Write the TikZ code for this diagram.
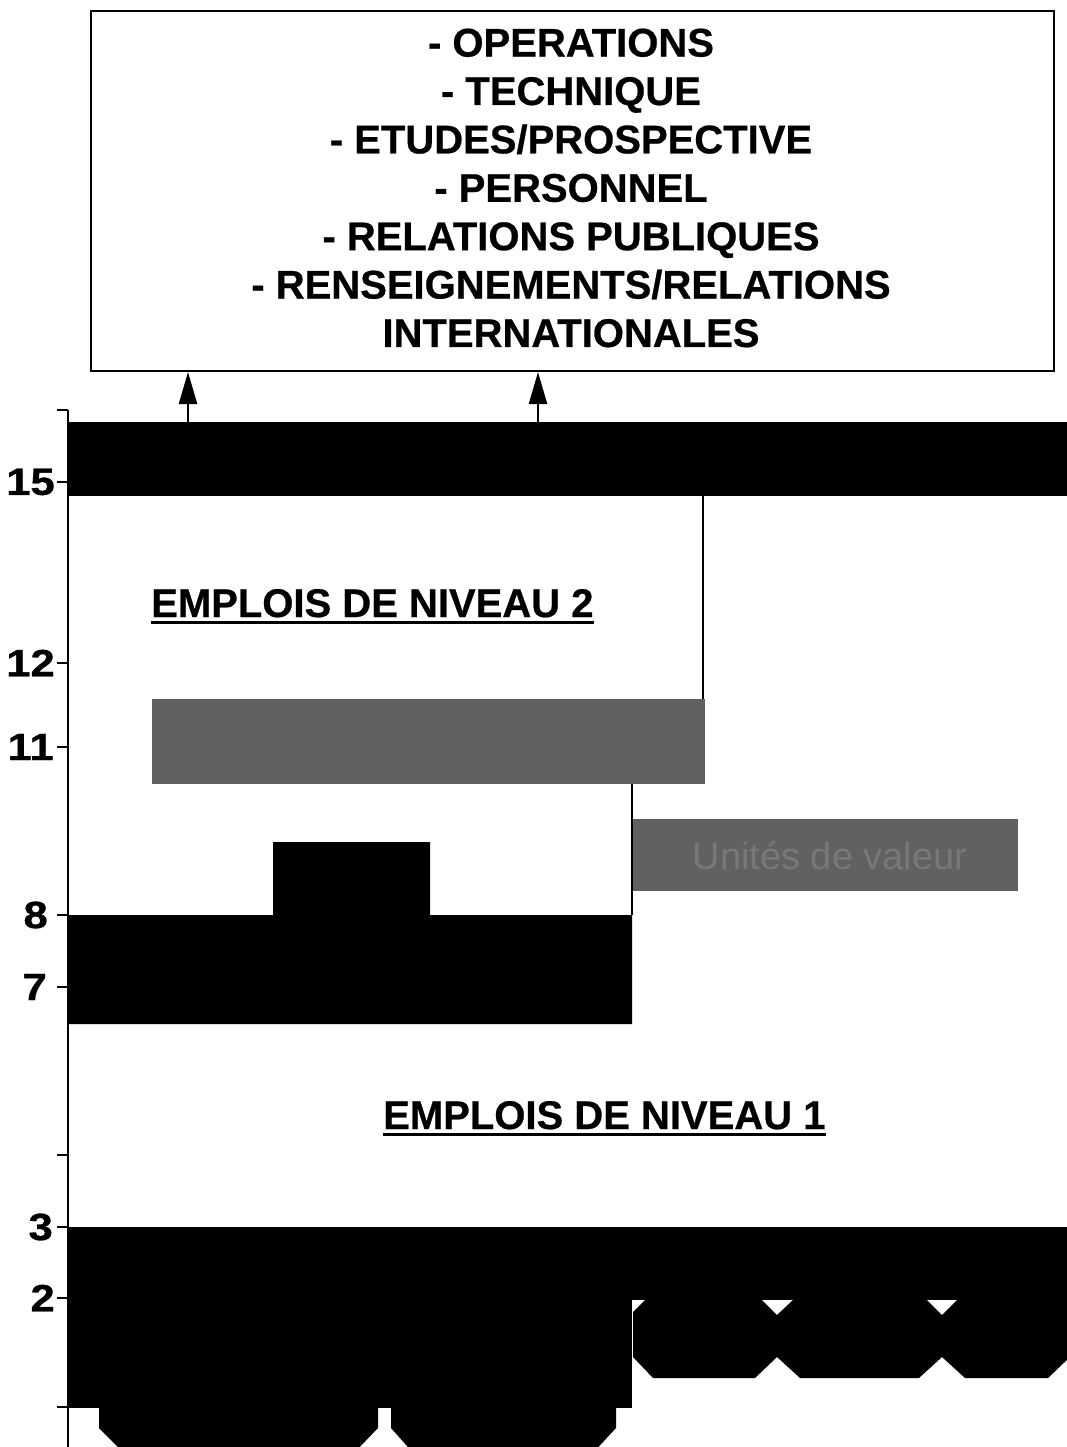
\documentclass[tikz,border=0pt]{standalone}
\usepackage{fontspec}
\setmainfont{Liberation Sans}
\newfontfamily\heavyfont[FakeBold=0.6]{Liberation Sans Bold}
\newfontfamily\widefont[FakeStretch=1.15,FakeBold=0.8]{Liberation Sans Bold}
\usetikzlibrary{arrows.meta}
\definecolor{boxgray}{gray}{0.38}
\definecolor{txtgray}{gray}{0.47}
\begin{document}
\begin{tikzpicture}[x=1pt,y=-1pt,
  listtext/.style={font=\heavyfont\fontsize{40}{48.4}\selectfont, align=center, inner sep=0pt},
  headtext/.style={font=\heavyfont\fontsize{40}{48}\selectfont, inner sep=0pt, anchor=base west},
  ticklab/.style={font=\widefont\fontsize{38}{40}\selectfont, inner sep=0pt, anchor=east},
  tickline/.style={line width=1.5pt},
  axisline/.style={line width=2.8pt},
  thinline/.style={line width=1.6pt},
  uline/.style={line width=3pt},
  uparrow/.style={line width=2.5pt, -{Triangle[length=32pt,width=18pt]}},
  greybox/.style={fill=boxgray, draw=none}
]
\useasboundingbox (0,0) rectangle (1067,1447);
\clip (0,0) rectangle (1067,1447);

% top box with list
\node[draw, line width=2pt, minimum width=963pt, minimum height=360pt, anchor=north west, inner sep=0pt] (topbox) at (90,10) {};
\node[listtext] (list) at (571,188) {- OPERATIONS\\- TECHNIQUE\\- ETUDES/PROSPECTIVE\\- PERSONNEL\\- RELATIONS PUBLIQUES\\- RENSEIGNEMENTS/RELATIONS\\INTERNATIONALES};

% top black bar
\node[fill=black, minimum width=999pt, minimum height=74pt, anchor=north west, inner sep=0pt] (bar) at (68,422) {};
\coordinate (a1) at (188,422);
\coordinate (a2) at (538,422);
\draw[uparrow] (a1) -- (a1 |- topbox.south);
\draw[uparrow] (a2) -- (a2 |- topbox.south);

% thin connecting lines
\coordinate (v1) at (703,496);
\coordinate (v2) at (632,784);
\draw[thinline] (v1) -- (703,699);
\draw[thinline] (v2) -- (632,915);

% grey boxes
\node[greybox, minimum width=553pt, minimum height=85pt, anchor=north west, inner sep=0pt] (g1) at (152,699) {};
\node[greybox, minimum width=385pt, minimum height=72pt, anchor=north west, inner sep=0pt] (g2) at (633,819) {};
\node[font=\fontsize{38}{40}\selectfont, text=txtgray, inner sep=0pt] (g2t) at (830,856) {Unités de valeur};

% middle black stair block
\fill[black] (68,915) -- (273,915) -- (273,842) -- (430,842) -- (430,915) -- (632,915) -- (632,1024) -- (68,1024) -- cycle;

% bottom black region
\fill[black] (68,1227) rectangle (1067,1300);
\fill[black] (68,1299) rectangle (632,1408);
% right octagons
\fill[black] (645,1300) -- (762,1300) -- (777,1315) -- (777,1357) -- (755,1378) -- (653,1378) -- (633,1357) -- (633,1312) -- cycle;
\fill[black] (793,1300) -- (927,1300) -- (942,1315) -- (942,1357) -- (919,1378) -- (800,1378) -- (777,1357) -- (777,1315) -- cycle;
\fill[black] (957,1300) -- (1070,1300) -- (1070,1357) -- (1048,1378) -- (965,1378) -- (942,1357) -- (942,1315) -- cycle;
% lower octagons
\fill[black] (99,1392) -- (99,1428) -- (126,1455) -- (352,1455) -- (378,1428) -- (378,1392) -- cycle;
\fill[black] (391,1400) -- (391,1428) -- (415,1455) -- (591,1455) -- (616,1428) -- (616,1400) -- cycle;

% headings
\node[headtext] (h2) at (151,617) {EMPLOIS DE NIVEAU 2};
\draw[uline] ([yshift=-5pt]h2.base west) -- ([yshift=-5pt]h2.base east);
\node[headtext] (h1) at (383,1129) {EMPLOIS DE NIVEAU 1};
\draw[uline] ([yshift=-5pt]h1.base west) -- ([yshift=-5pt]h1.base east);

% axis
\draw[axisline] (68,410) -- (68,1447);
\foreach \yy in {410,482,663,747,915,987,1155,1227,1298,1407} {
  \draw[tickline] (57,\yy) -- (68,\yy);
}
\node[ticklab] (l15) at (55,482) {15};
\node[ticklab] (l12) at (55,663) {12};
\node[ticklab] (l11) at (54,747) {11};
\node[ticklab] (l8) at (48,915) {8};
\node[ticklab] (l7) at (47,987) {7};
\node[ticklab] (l3) at (53,1227) {3};
\node[ticklab] (l2) at (55,1298) {2};
\end{tikzpicture}
\end{document}
